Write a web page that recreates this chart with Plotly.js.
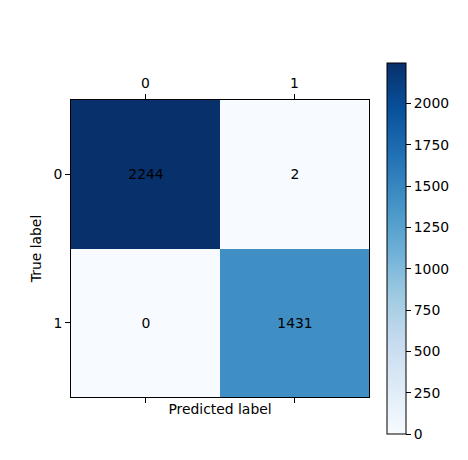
<!DOCTYPE html>
<html>
<head>
<script src="https://cdn.plot.ly/plotly-3.0.1.min.js"></script>
<style>html,body{margin:0;padding:0;background:#fff;}#chart{width:468px;height:460px;}</style>
</head>
<body>
<div id="chart"></div>
<script>
var predictedLabels = [0, 1];
var trueLabels = [0, 1];
var counts = [
  [2244, 2],
  [0, 1431]
];
var colorbarTicks = [0, 250, 500, 750, 1000, 1250, 1500, 1750, 2000];

var blues = [
  [0, '#f7fbff'], [0.125, '#deebf7'], [0.25, '#c6dbef'], [0.375, '#9ecae1'],
  [0.5, '#6baed6'], [0.625, '#4292c6'], [0.75, '#2171b5'], [0.875, '#08519c'], [1, '#08306b']
];

var textVals = counts.map(function(r){ return r.map(function(v){ return String(v); }); });

var fs = 13.9;
var axisFont = {family: 'DejaVu Sans', size: fs, color: 'black'};

var trace = {
  type: 'heatmap',
  x: predictedLabels,
  y: trueLabels,
  z: counts,
  colorscale: blues,
  zmin: 0,
  zmax: 2244,
  text: textVals,
  texttemplate: '%{text}',
  textfont: axisFont,
  hoverinfo: 'skip',
  xgap: 0, ygap: 0,
  colorbar: {
    x: 1.0604, xanchor: 'left', xref: 'paper',
    y: 0.5, yanchor: 'middle',
    thickness: 19, thicknessmode: 'pixels',
    len: 371, lenmode: 'pixels',
    outlinewidth: 1, outlinecolor: 'black',
    tickvals: colorbarTicks,
    ticks: 'outside', ticklen: 5, tickwidth: 1, tickcolor: 'black',
    tickfont: axisFont,
    xpad: 0, ypad: 0
  }
};

var layout = {
  width: 468, height: 460,
  margin: {l: 71, r: 99, t: 100, b: 63},
  paper_bgcolor: 'white', plot_bgcolor: 'white',
  font: axisFont,
  xaxis: {
    range: [-0.5, 1.5], side: 'bottom',
    tickvals: predictedLabels, showticklabels: false,
    ticks: 'outside', ticklen: 5, tickcolor: 'black',
    showline: true, mirror: true, linecolor: 'black', linewidth: 1,
    showgrid: false, zeroline: false,
    title: {text: 'Predicted label', font: axisFont, standoff: 2}
  },
  xaxis2: {
    range: [-0.5, 1.5], overlaying: 'x', side: 'top', anchor: 'y',
    tickvals: predictedLabels, ticktext: predictedLabels.map(String),
    ticks: 'outside', ticklen: 5, tickcolor: 'black',
    tickfont: axisFont, showgrid: false, zeroline: false, showline: false
  },
  yaxis: {
    range: [1.5, -0.5],
    tickvals: trueLabels, ticktext: trueLabels.map(String),
    ticks: 'outside', ticklen: 5, tickcolor: 'black',
    showline: true, mirror: true, linecolor: 'black', linewidth: 1,
    showgrid: false, zeroline: false,
    tickfont: axisFont,
    title: {text: 'True label', font: axisFont, standoff: 8}
  },
  showlegend: false
};

var dummy = {type: 'scatter', x: [0], y: [0], xaxis: 'x2', yaxis: 'y', mode: 'markers', marker: {opacity: 0}, hoverinfo: 'skip', showlegend: false};

Plotly.newPlot('chart', [trace, dummy], layout, {displayModeBar: false, staticPlot: true});
</script>
</body>
</html>
